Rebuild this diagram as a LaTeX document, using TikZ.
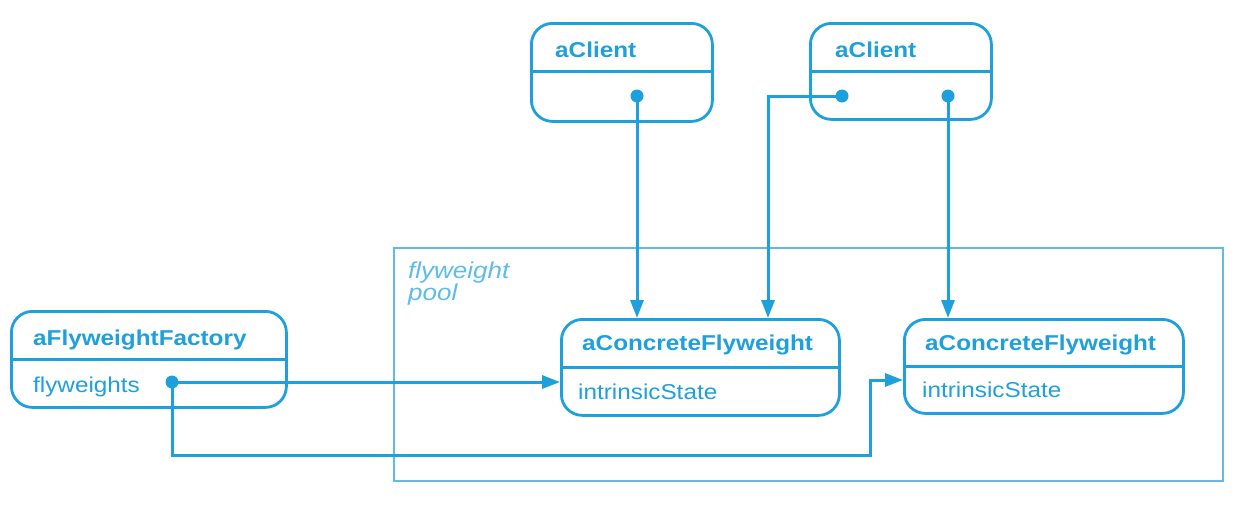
\documentclass[tikz,border=0pt]{standalone}
\usepackage{fontspec}
\setmainfont{Liberation Sans}[FakeStretch=1.13]
\usetikzlibrary{arrows.meta,calc}
\definecolor{fw}{RGB}{30,160,220}
\definecolor{fwlight}{RGB}{95,188,232}
\begin{document}
\begin{tikzpicture}[x=1pt,y=-1pt,
  obj/.style={draw=fw, line width=2.8pt, rounded corners=21pt, inner sep=0pt, anchor=north west},
  ttl/.style={anchor=base west, inner sep=0pt, text=fw, font=\fontsize{21.5}{23}\selectfont\bfseries},
  attr/.style={anchor=base west, inner sep=0pt, text=fw, font=\fontsize{21.5}{23}\selectfont},
  conn/.style={draw=fw, line width=3pt},
  arr/.style={conn, -{Triangle[length=18pt,width=13pt]}},
  dot/.style={fill=fw}
]
\useasboundingbox (0,0) rectangle (1253,507);
% pool
\node[draw=fwlight, line width=2pt, minimum width=829pt, minimum height=233pt, inner sep=0pt, anchor=north west] (pool) at (393,247) {};
\node[anchor=base west, inner sep=0pt, text=fwlight, align=left, font=\fontsize{23}{22}\selectfont\itshape] (poollbl) at (408,300) {flyweight\\pool};
% boxes
\node[obj, minimum width=275pt, minimum height=96pt] (fac) at (10,310) {};
\node[obj, minimum width=181pt, minimum height=98pt] (c1) at (530,22) {};
\node[obj, minimum width=181pt, minimum height=96pt] (c2) at (809,22) {};
\node[obj, minimum width=278pt, minimum height=96pt] (cf1) at (560,318) {};
\node[obj, minimum width=279pt, minimum height=94pt] (cf2) at (903,318) {};
% dividers
\draw[conn] (fac.west |- 0,359) -- (fac.east |- 0,359);
\draw[conn] (c1.west |- 0,71) -- (c1.east |- 0,71);
\draw[conn] (c2.west |- 0,71) -- (c2.east |- 0,71);
\draw[conn] (cf1.west |- 0,367) -- (cf1.east |- 0,367);
\draw[conn] (cf2.west |- 0,366) -- (cf2.east |- 0,366);
% texts
\node[ttl] (tfac) at (33,345) {aFlyweightFactory};
\node[attr] (afac) at (33,392) {flyweights};
\node[ttl] (tc1) at (555,57) {aClient};
\node[ttl] (tc2) at (835,57) {aClient};
\node[ttl] (tcf1) at (582,350) {aConcreteFlyweight};
\node[attr] (acf1) at (578,399) {intrinsicState};
\node[ttl] (tcf2) at (925,350) {aConcreteFlyweight};
\node[attr] (acf2) at (922,397) {intrinsicState};
% dots
\coordinate (d1) at (637,96);
\coordinate (d2) at (842,96);
\coordinate (d3) at (948,96);
\coordinate (df) at (172,382);
\coordinate (k2) at (768,96);
\coordinate (b1) at (172,455);
\coordinate (b2) at (870,455);
\coordinate (b3) at (870,380);
% connectors
\draw[arr] (d1) -- (d1 |- cf1.north);
\draw[arr] (d2) -- (k2) -- (k2 |- cf1.north);
\draw[arr] (d3) -- (d3 |- cf2.north);
\draw[arr] (df) -- (df -| cf1.west);
\draw[arr] (df) -- (b1) -- (b2) -- (b3) -- (b3 -| cf2.west);
\foreach \d in {d1,d2,d3,df} \fill[dot] (\d) circle (6.5pt);
\end{tikzpicture}
\end{document}
